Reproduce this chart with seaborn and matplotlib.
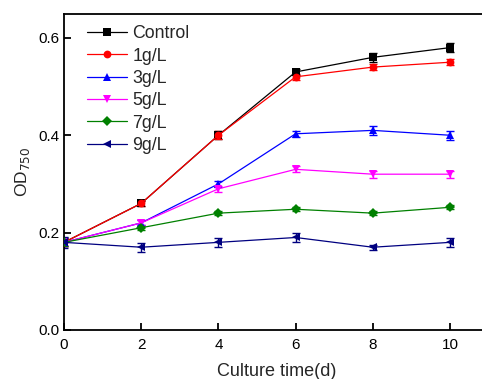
import pandas as pd
import matplotlib.pyplot as plt
import seaborn as sns

days = [0, 2, 4, 6, 8, 10]
groups = ['Control', '1g/L', '3g/L', '5g/L', '7g/L', '9g/L']
od_control = [0.18, 0.26, 0.40, 0.53, 0.56, 0.58]
od_1 = [0.18, 0.26, 0.40, 0.52, 0.54, 0.55]
od_3 = [0.18, 0.22, 0.30, 0.403, 0.41, 0.40]
od_5 = [0.18, 0.22, 0.29, 0.33, 0.32, 0.32]
od_7 = [0.18, 0.21, 0.24, 0.248, 0.24, 0.252]
od_9 = [0.18, 0.17, 0.18, 0.19, 0.17, 0.18]
err_control = [0.008, 0.005, 0.008, 0.006, 0.009, 0.01]
err_1 = [0.008, 0.005, 0.008, 0.006, 0.007, 0.006]
err_3 = [0.008, 0.005, 0.007, 0.006, 0.009, 0.009]
err_5 = [0.008, 0.005, 0.006, 0.006, 0.007, 0.007]
err_7 = [0.008, 0.004, 0.004, 0.004, 0.004, 0.004]
err_9 = [0.012, 0.009, 0.009, 0.010, 0.005, 0.009]

values = [od_control, od_1, od_3, od_5, od_7, od_9]
errors = [err_control, err_1, err_3, err_5, err_7, err_9]
colors = ['black', 'red', 'blue', 'magenta', 'green', 'navy']
marks = ['s', 'o', '^', 'v', 'D', '<']

rows = []
for g, vals, errs in zip(groups, values, errors):
    for d, v, e in zip(days, vals, errs):
        rows.append({'day': d, 'od': v, 'err': e, 'group': g})
df = pd.DataFrame(rows)

sns.set_style('ticks')
plt.rcParams['font.family'] = ['Liberation Sans', 'DejaVu Sans']

fig = plt.figure(figsize=(4.82, 3.79), dpi=100)
ax = fig.add_axes([0.1328, 0.1293, 0.881, 0.835])

# error bars first, then lines on top
for g, c in zip(groups, colors):
    sub = df[df.group == g]
    ax.errorbar(sub.day, sub.od, yerr=sub.err, fmt='none', ecolor=c,
                elinewidth=1, capsize=3, capthick=1, zorder=2)

sns.lineplot(data=df, x='day', y='od', hue='group', style='group',
             palette=dict(zip(groups, colors)), markers=dict(zip(groups, marks)),
             dashes=False, linewidth=0.9, markersize=5.6, markeredgewidth=0,
             ax=ax, zorder=3)

ax.set_xlim(0, 11)
ax.set_ylim(0, 0.65)
ax.set_xticks(days)
ax.set_yticks([0.0, 0.2, 0.4, 0.6])
ax.set_yticklabels(['0.0', '0.2', '0.4', '0.6'])
ax.tick_params(direction='in', length=5, width=1.3, labelsize=11, colors='black')
ax.tick_params(axis='x', pad=6)
for s in ax.spines.values():
    s.set_linewidth(1.3)
    s.set_color('black')

ax.set_xlabel('Culture time(d)', fontsize=13, labelpad=8)
ax.set_ylabel('OD$_{750}$', fontsize=12.5)

ax.legend(loc='upper left', frameon=False, fontsize=12.8, handlelength=2.25,
          labelspacing=0.3, borderaxespad=0, handletextpad=0.3,
          bbox_to_anchor=(0.038, 0.985))

plt.savefig('out.png', dpi=100)
